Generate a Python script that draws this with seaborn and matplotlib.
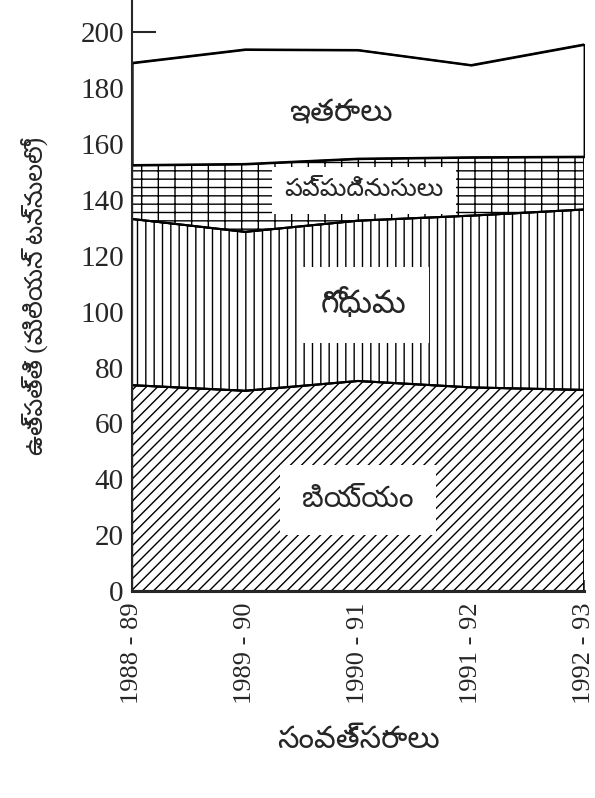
import numpy as np
import pandas as pd
import matplotlib
matplotlib.use('Agg')
import matplotlib.pyplot as plt
import seaborn as sns

# విలువలు చిత్రం నుండి అంచనా (మిలియన్ టన్నులు)
years = ['1988 - 89', '1989 - 90', '1990 - 91', '1991 - 92', '1992 - 93']
rice = [73.7, 71.7, 75.2, 72.9, 72.0]
wheat = [59.5, 56.9, 57.4, 61.5, 64.6]
pulses = [19.3, 24.3, 22.2, 20.9, 18.9]
others = [36.6, 41.0, 38.9, 33.0, 40.2]

layer_names = ['బియ్యం', 'గోధుమ', 'పప్పుదినుసులు', 'ఇతరాలు']
yticks = [0, 20, 40, 60, 80, 100, 120, 140, 160, 180, 200]

df = pd.DataFrame({'year': years, 'rice': rice, 'wheat': wheat,
                   'pulses': pulses, 'others': others})
tops = df[['rice', 'wheat', 'pulses', 'others']].cumsum(axis=1)

sns.set_style('ticks')
plt.rcParams['font.family'] = ['Liberation Serif', 'Noto Sans Telugu', 'DejaVu Sans']
plt.rcParams['hatch.linewidth'] = 1.0

fig = plt.figure(figsize=(5.95, 7.98), dpi=100)
ax = fig.add_axes([0.222, 0.2594, 0.7597, 0.7406])

x = np.arange(len(years))
hatches = ['///', '||', '--|', None]
lower = np.zeros(len(years))
for col, h in zip(['rice', 'wheat', 'pulses', 'others'], hatches):
    upper = tops[col].values
    ax.fill_between(x, lower, upper, facecolor='white', edgecolor='black',
                    hatch=h, linewidth=1.5)
    sns.lineplot(x=x, y=upper, color='black', linewidth=1.5, ax=ax)
    lower = upper

# లేబుళ్లు తెల్లని పెట్టెల్లో
label_pos = [(2.0, 32.6), (2.05, 102.4), (2.05, 143.5), (1.85, 171)]
label_size = [21, 23, 18, 22]
label_pad = [16, 16, 9, 0]
for name, (lx, ly), fs, pd_ in zip(layer_names, label_pos, label_size, label_pad):
    box = None if name == 'ఇతరాలు' else dict(facecolor='white', edgecolor='none', pad=pd_)
    ax.text(lx, ly, name, ha='center', va='center', fontsize=fs,
            fontweight='light', bbox=box)

ax.set_xlim(0, 4)
ax.set_ylim(0, 211.6)
ax.set_yticks(yticks)
ax.set_xticks(x)
ax.set_xticklabels(years, rotation=90, va='top')
ax.tick_params(axis='y', direction='in', length=17, width=1.5, labelsize=21, pad=6)
ax.tick_params(axis='x', direction='in', length=8, width=1.2, labelsize=19, pad=8)
sns.despine(ax=ax, top=True, right=True)
ax.spines['left'].set_linewidth(1.5)
ax.spines['bottom'].set_linewidth(2.2)

ax.set_ylabel('ఉత్పత్తి (మిలియన్ టన్నులలో)', fontsize=18, labelpad=22)
ax.set_xlabel('సంవత్సరాలు', fontsize=22, labelpad=16)

fig.savefig('out.png', dpi=100)
